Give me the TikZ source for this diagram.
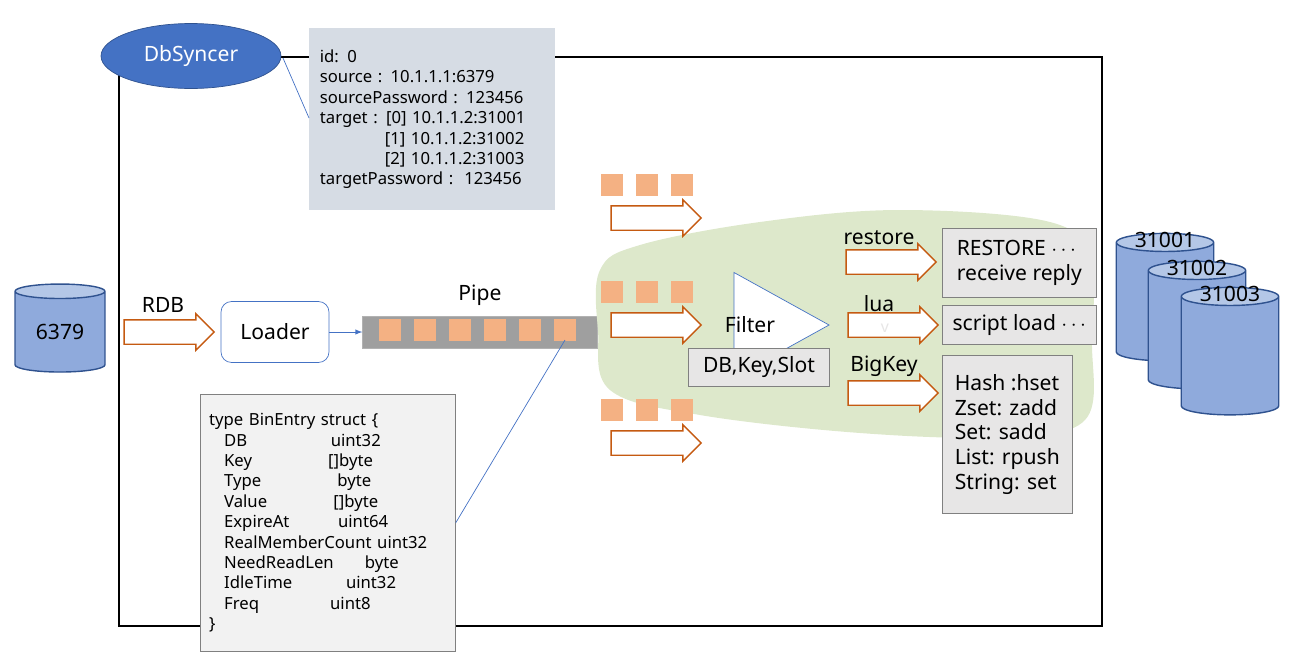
\documentclass[tikz,border=0pt]{standalone}
\usepackage{fontspec}
\setmainfont{Noto Sans}
\usetikzlibrary{shapes.geometric,shapes.arrows,positioning}
\definecolor{dborange}{HTML}{C55A11}
\definecolor{dbsquare}{HTML}{F4B183}
\definecolor{dbblue}{HTML}{4472C4}
\definecolor{dbcyl}{HTML}{8FAADC}
\definecolor{dbcyltop}{HTML}{B4C7E7}
\definecolor{dbedge}{HTML}{2F528F}
\definecolor{dbinfo}{HTML}{D6DCE4}
\definecolor{dbgreen}{HTML}{DDE8CB}
\definecolor{dbgray}{HTML}{E7E6E6}
\begin{document}
\begin{tikzpicture}[x=0.02cm,y=-0.02cm]
  \tikzset{
    db node/.style={cylinder,shape border rotate=90,draw=dbedge,thick,aspect=0.3,
      cylinder uses custom fill,cylinder body fill=dbcyl,cylinder end fill=dbcyltop,
      minimum width=1.8cm,minimum height=1.76cm,inner sep=0,font=\large},
    flow arrow/.style={single arrow,draw=dborange,fill=white,thick,minimum width=0.72cm,
      minimum height=1.8cm,single arrow head extend=0.12cm,inner xsep=0,inner ysep=0.23cm},
    item/.style={fill=dbsquare,minimum size=0.44cm,inner sep=0},
    cmd box/.style={draw=gray,fill=dbgray,align=left,font=\large,inner sep=4pt,anchor=north west},
    code text/.style={align=left,font=\fontsize{9.5}{11.6}\selectfont,anchor=north west}
  }
  \useasboundingbox (0,0) rectangle (1299,670);
  % frame and config
  \draw[thick] (119,57) rectangle (1102,626);
  \node[ellipse,fill=dbblue,draw=dbedge,text=white,minimum width=3.6cm,minimum height=1.3cm,font=\large] (syncer) at (191,56) {DbSyncer};
  \node[fill=dbinfo,code text,text width=4.5cm,inner sep=6pt,minimum height=3.64cm] (config) at (309,28)
    {id: 0\\source : 10.1.1.1:6379\\sourcePassword : 123456\\target : [0] 10.1.1.2:31001\\
     \hspace*{1.3cm}[1] 10.1.1.2:31002\\\hspace*{1.3cm}[2] 10.1.1.2:31003\\targetPassword :\ \ 123456};
  \draw[dbblue] (283,58) -- (309,118);
  % source and loader
  \node[db node] (src) at (60,332) {6379};
  \node[flow arrow] (rdb) at (163,332) {};
  \node[above=0pt of rdb] {\large RDB};
  \node[draw=dbblue,rounded corners=6pt,minimum width=2.16cm,minimum height=1.22cm,font=\large] (loader) at (275,332) {Loader};
  \node[cylinder,draw=gray!60,cylinder uses custom fill,cylinder body fill=gray!75,cylinder end fill=gray!35,
    aspect=0.4,minimum width=0.64cm,minimum height=4.7cm,inner sep=0] (pipe) at (480,332) {};
  \node[above=2pt of pipe,font=\large] {Pipe};
  \draw[-latex,dbblue] (loader) -- (pipe);
  \foreach \x in {390,425,460,495,530,565} \node[item] at (\x,330) {};
  \node[draw=gray,fill=gray!10,code text,text width=4.75cm,inner sep=5pt,minimum height=5.14cm] (entry) at (200,394)
    {type BinEntry struct \{\\
    \hspace*{3mm}DB \hspace{1.45cm} uint32\\
    \hspace*{3mm}Key \hspace{1.3cm} []byte\\
    \hspace*{3mm}Type \hspace{1.3cm} byte\\
    \hspace*{3mm}Value \hspace{1.1cm} []byte\\
    \hspace*{3mm}ExpireAt \hspace{0.75cm} uint64\\
    \hspace*{3mm}RealMemberCount uint32\\
    \hspace*{3mm}NeedReadLen \hspace{0.4cm} byte\\
    \hspace*{3mm}IdleTime \hspace{0.85cm} uint32\\
    \hspace*{3mm}Freq \hspace{1.2cm} uint8\\
    \}};
  \coordinate (pipeitem) at (565,340);
  \draw[dbblue] (entry.east) -- (pipeitem);
  % filter area
  \fill[dbgreen] plot[smooth cycle,tension=0.6] coordinates {(600,270) (640,245) (760,222) (900,210) (1050,222) (1090,260)
    (1092,340) (1085,420) (1000,437) (860,433) (700,415) (610,390) (598,330)};
  \foreach \y/\n in {185/a,292/b,410/c} {
    \foreach \x in {612,647,682} \node[item] at (\x,\y) {};
    \node[flow arrow] (in\n) at (650,\y+33) {};
  }
  \node[draw=dbblue,fill=white,isosceles triangle,isosceles triangle stretches,minimum width=2.1cm,minimum height=1.9cm,inner sep=0] (filter) at (765,325) {};
  \node[font=\large] at (750,325) {Filter};
  \node[draw=gray,fill=dbgray,font=\large,minimum width=2.82cm,minimum height=0.76cm] (keys) at (759,367) {DB,Key,Slot};
  \node[flow arrow] (restore) at (885,262) {};
  \node[flow arrow] (lua) at (887,325) {};
  \node[flow arrow] (bigkey) at (887,393) {};
  \node[font=\large] at (879,238) {restore};
  \node[font=\large] at (879,304) {lua};
  \node[text=dbgray,font=\small] at (885,328) {v};
  \node[font=\large] at (884,366) {BigKey};
  \node[cmd box,minimum width=3.08cm,minimum height=1.38cm] (rcmd) at (942,228) {RESTORE $\cdots$\\receive reply};
  \node[cmd box,minimum width=3.08cm,minimum height=0.78cm] (lcmd) at (942,305) {script load $\cdots$};
  \node[cmd box,minimum width=2.6cm,minimum height=3.16cm] (bcmd) at (942,355) {Hash :hset\\Zset: zadd\\Set: sadd\\List: rpush\\String: set};
  % targets
  \tikzset{target/.style={db node,minimum width=1.95cm,minimum height=2.55cm}}
  \node[target] (t1) at (1165,302) {\phantom{31001}};
  \node[target] (t2) at (1197,330) {\phantom{31002}};
  \node[target] (t3) at (1230,356) {\phantom{31003}};
  \foreach \t/\p in {t1/31001,t2/31002,t3/31003}
    \node[font=\large,below=-4pt of \t.north] {\p};
\end{tikzpicture}
\end{document}
